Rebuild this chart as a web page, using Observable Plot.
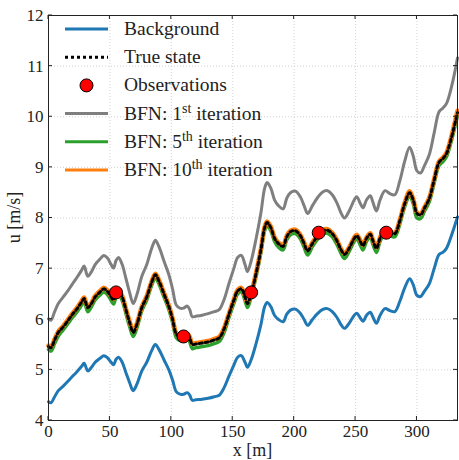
<!DOCTYPE html>
<html>
<head>
<meta charset="utf-8">
<script src="https://cdn.jsdelivr.net/npm/d3@7"></script>
<script src="https://cdn.jsdelivr.net/npm/@observablehq/plot@0.6"></script>
<style>
  html, body { margin: 0; padding: 0; background: #fff; }
  #chart svg { display: block; }
  #chart svg, #chart svg text, #chart svg tspan { font-family: "Liberation Serif", "DejaVu Serif", serif !important; }
</style>
</head>
<body>
<div id="chart"></div>
<script>
// x positions [m]
const xs = [0,2,5,8,12,16,19,23,27,29,32,35,38,42,45,48,51,53,55,57,60,63,66,69,72,76,80,84,87,90,94,98,101,104,107,110,113,115,117,120,125,130,135,139,143,147,151,154,157,160,162,165,169,173,176,178,181,184,187,191,194,197,201,205,208,211,215,219,223,227,231,235,238,241,245,249,251,254,256,259,262,264,267,270,274,278,282,286,290,294,297,300,303,306,310,314,318,321,324,328,333];

const background = [4.37,4.35,4.47,4.59,4.68,4.78,4.86,4.96,5.07,5.13,4.98,5.05,5.15,5.23,5.28,5.24,5.15,5.10,5.21,5.25,5.15,4.95,4.75,4.59,4.72,4.98,5.15,5.38,5.50,5.40,5.20,5.00,4.80,4.57,4.52,4.52,4.55,4.50,4.40,4.41,4.42,4.44,4.47,4.50,4.65,4.88,5.10,5.25,5.28,5.15,5.05,5.20,5.52,5.90,6.25,6.33,6.25,6.08,6.00,5.95,6.10,6.18,6.20,6.12,6.00,5.88,6.00,6.11,6.19,6.21,6.15,6.03,5.90,5.82,5.93,6.08,6.12,6.02,5.96,6.08,6.14,6.05,5.92,6.08,6.21,6.17,6.15,6.35,6.62,6.80,6.68,6.47,6.45,6.55,6.70,7.00,7.28,7.32,7.40,7.65,8.02];

const trueState = [5.46,5.44,5.59,5.74,5.85,5.98,6.08,6.20,6.34,6.41,6.23,6.31,6.44,6.54,6.60,6.55,6.44,6.38,6.51,6.56,6.44,6.19,5.94,5.74,5.90,6.23,6.44,6.73,6.88,6.75,6.50,6.25,6.00,5.71,5.65,5.65,5.69,5.63,5.50,5.51,5.53,5.55,5.59,5.63,5.81,6.10,6.38,6.56,6.60,6.44,6.31,6.50,6.90,7.38,7.81,7.91,7.81,7.60,7.50,7.44,7.63,7.73,7.75,7.65,7.50,7.35,7.50,7.64,7.74,7.76,7.69,7.54,7.38,7.28,7.41,7.60,7.65,7.53,7.45,7.60,7.68,7.56,7.40,7.60,7.76,7.71,7.69,7.94,8.28,8.50,8.35,8.09,8.06,8.19,8.38,8.75,9.10,9.17,9.27,9.58,10.08];

const bfn1 = [6.01,5.98,6.15,6.31,6.44,6.57,6.68,6.82,6.97,7.05,6.85,6.94,7.08,7.19,7.26,7.21,7.08,7.01,7.16,7.22,7.08,6.81,6.53,6.31,6.49,6.85,7.08,7.40,7.56,7.43,7.15,6.88,6.60,6.28,6.22,6.22,6.26,6.19,6.05,6.06,6.08,6.11,6.15,6.19,6.39,6.71,7.01,7.22,7.26,7.08,6.94,7.15,7.59,8.11,8.59,8.70,8.59,8.36,8.25,8.18,8.39,8.50,8.53,8.42,8.25,8.09,8.25,8.40,8.51,8.54,8.46,8.29,8.11,8.00,8.15,8.36,8.42,8.28,8.20,8.36,8.44,8.32,8.14,8.36,8.54,8.48,8.46,8.73,9.12,9.40,9.22,8.93,8.89,9.03,9.25,9.68,10.10,10.17,10.26,10.58,11.16];

const bfn5 = [5.40,5.37,5.52,5.67,5.79,5.92,6.02,6.14,6.28,6.35,6.15,6.25,6.38,6.48,6.54,6.49,6.37,6.30,6.44,6.50,6.37,6.12,5.86,5.66,5.83,6.17,6.38,6.67,6.82,6.69,6.44,6.19,5.94,5.64,5.58,5.58,5.62,5.55,5.42,5.44,5.46,5.48,5.52,5.56,5.74,6.04,6.32,6.50,6.54,6.37,6.23,6.44,6.84,7.32,7.75,7.85,7.75,7.54,7.43,7.37,7.57,7.67,7.69,7.59,7.43,7.27,7.44,7.58,7.68,7.70,7.63,7.47,7.31,7.20,7.35,7.54,7.59,7.46,7.37,7.54,7.62,7.49,7.32,7.54,7.70,7.65,7.63,7.88,8.22,8.44,8.28,8.00,7.99,8.13,8.32,8.69,9.04,9.11,9.21,9.52,10.02];

const bfn10 = [5.48,5.46,5.61,5.76,5.87,6.00,6.10,6.22,6.36,6.43,6.25,6.33,6.46,6.56,6.62,6.57,6.46,6.40,6.53,6.58,6.46,6.21,5.96,5.76,5.92,6.25,6.46,6.75,6.90,6.77,6.52,6.27,6.02,5.73,5.67,5.67,5.71,5.65,5.52,5.53,5.55,5.57,5.61,5.65,5.83,6.12,6.40,6.58,6.62,6.46,6.33,6.52,6.92,7.40,7.83,7.93,7.83,7.62,7.52,7.46,7.65,7.75,7.77,7.67,7.52,7.37,7.52,7.66,7.76,7.78,7.71,7.56,7.40,7.30,7.43,7.62,7.67,7.55,7.47,7.62,7.70,7.58,7.42,7.62,7.78,7.73,7.71,7.96,8.30,8.53,8.37,8.11,8.08,8.21,8.40,8.77,9.12,9.19,9.29,9.61,10.12];

const obsX = [55, 110, 165, 220, 275];
const obsU = [6.53, 5.66, 6.53, 7.71, 7.71];

const xTicks = [0, 50, 100, 150, 200, 250, 300];
const yTicks = [4, 5, 6, 7, 8, 9, 10, 11, 12];

const legendItems = [
  {label: "Background", sup: "", rest: "", color: "#1f77b4", kind: "line"},
  {label: "True state", sup: "", rest: "", color: "#000", kind: "dots"},
  {label: "Observations", sup: "", rest: "", color: "#ff0000", kind: "marker"},
  {label: "BFN: 1", sup: "st", rest: " iteration", color: "#7f7f7f", kind: "line"},
  {label: "BFN: 5", sup: "th", rest: " iteration", color: "#2ca02c", kind: "line"},
  {label: "BFN: 10", sup: "th", rest: " iteration", color: "#ff7f0e", kind: "line"}
];

const rows = (ys) => xs.map((x, i) => ({x, u: ys[i]}));
const obs = obsX.map((x, i) => ({x, u: obsU[i]}));

const FONT = "Liberation Serif, DejaVu Serif, serif";
const curve = "catmull-rom";
const DOTS = "3,3";

const plot = Plot.plot({
  width: 459,
  height: 460,
  marginLeft: 48,
  marginRight: 2,
  marginTop: 15,
  marginBottom: 40,
  style: {fontFamily: FONT, fontSize: "17px", color: "#222", background: "#fff"},
  x: {domain: [0, 333]},
  y: {domain: [4, 12]},
  marks: [
    Plot.gridX(xTicks, {stroke: "#c8c8c8", strokeOpacity: 1, strokeDasharray: "1,2", strokeWidth: 0.8}),
    Plot.gridY(yTicks, {stroke: "#c8c8c8", strokeOpacity: 1, strokeDasharray: "1,2", strokeWidth: 0.8}),
    Plot.line(rows(background), {x: "x", y: "u", stroke: "#1f77b4", strokeWidth: 3, curve}),
    Plot.line(rows(bfn1), {x: "x", y: "u", stroke: "#7f7f7f", strokeWidth: 3, curve}),
    Plot.line(rows(bfn5), {x: "x", y: "u", stroke: "#2ca02c", strokeWidth: 3.5, curve}),
    Plot.line(rows(bfn10), {x: "x", y: "u", stroke: "#ff7f0e", strokeWidth: 4.5, curve}),
    Plot.line(rows(trueState), {x: "x", y: "u", stroke: "#000", strokeWidth: 3, strokeDasharray: DOTS, curve}),
    Plot.dot(obs, {x: "x", y: "u", r: 6.5, fill: "#ff0000", stroke: "#000", strokeWidth: 1}),
    Plot.axisX(xTicks, {anchor: "bottom", tickSize: 0, tickPadding: 4, fontSize: 17, fill: "#222", label: null, tickFormat: d => String(d)}),
    Plot.axisY(yTicks, {anchor: "left", tickSize: 0, tickPadding: 5, fontSize: 17, fill: "#222", label: null, tickFormat: d => String(d)}),
    Plot.frame({stroke: "#222", strokeWidth: 1})
  ]
});

document.getElementById("chart").appendChild(plot);

const sx = plot.scale("x"), sy = plot.scale("y");
const svg = d3.select(plot);

// inward ticks on all four sides, placed through the plot's scales
const tk = svg.append("g").attr("stroke", "#222").attr("stroke-width", 1);
const [y0, y1] = sy.range;   // bottom, top
const [x0, x1] = sx.range;   // left, right
xTicks.forEach(v => {
  const px = sx.apply(v);
  tk.append("line").attr("x1", px).attr("x2", px).attr("y1", y0).attr("y2", y0 - 4);
  tk.append("line").attr("x1", px).attr("x2", px).attr("y1", y1).attr("y2", y1 + 4);
});
yTicks.forEach(v => {
  const py = sy.apply(v);
  tk.append("line").attr("x1", x0).attr("x2", x0 + 4).attr("y1", py).attr("y2", py);
  tk.append("line").attr("x1", x1).attr("x2", x1 - 4).attr("y1", py).attr("y2", py);
});

// axis titles
svg.append("text")
  .attr("x", (x0 + x1) / 2).attr("y", 456)
  .attr("text-anchor", "middle")
  .attr("font-family", FONT).attr("font-size", 18).attr("fill", "#222")
  .text("x [m]");
svg.append("text")
  .attr("transform", `translate(20,${(y0 + y1) / 2}) rotate(-90)`)
  .attr("text-anchor", "middle")
  .attr("font-family", FONT).attr("font-size", 18).attr("fill", "#222")
  .text("u [m/s]");

// legend
const lg = svg.append("g").attr("font-family", FONT).attr("font-size", 19.5)
  .attr("fill", "#222").attr("text-anchor", "start");
legendItems.forEach((d, i) => {
  const y = 29 + i * 28.2;
  if (d.kind === "line") {
    lg.append("line").attr("x1", 65).attr("x2", 108).attr("y1", y).attr("y2", y)
      .attr("stroke", d.color).attr("stroke-width", 3);
  } else if (d.kind === "dots") {
    lg.append("line").attr("x1", 65).attr("x2", 108).attr("y1", y).attr("y2", y)
      .attr("stroke", d.color).attr("stroke-width", 3).attr("stroke-dasharray", DOTS);
  } else {
    lg.append("circle").attr("cx", 86.5).attr("cy", y).attr("r", 6.5)
      .attr("fill", d.color).attr("stroke", "#000").attr("stroke-width", 1);
  }
  const t = lg.append("text").attr("x", 124).attr("y", y + 6).attr("text-anchor", "start");
  t.append("tspan").text(d.label);
  if (d.sup) {
    t.append("tspan").attr("font-size", 14).attr("dy", -7).text(d.sup);
    t.append("tspan").attr("dy", 7).text(d.rest);
  }
});
</script>
</body>
</html>
